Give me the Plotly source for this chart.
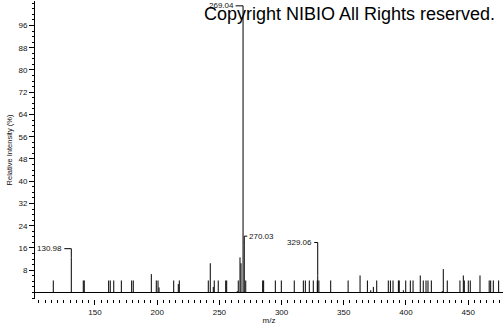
import plotly.graph_objects as go

# ---- data ----
mz = [116.5, 130.98, 140.6, 141.4, 161.0, 162.3, 165.1, 171.2, 179.5, 180.8,
      195.3, 199.3, 200.7, 201.5, 213.3, 217.0, 217.8, 241.1, 242.7, 245.1,
      245.9, 249.1, 255.1, 255.9, 264.4, 265.2, 266.6, 267.4, 269.04, 270.03,
      271.2, 284.8, 285.6, 295.0, 299.8, 310.2, 317.5, 319.1, 322.3, 325.5,
      328.7, 329.06, 330.0, 339.5, 353.5, 363.1, 369.0, 371.7, 373.8, 376.5,
      385.8, 387.5, 389.6, 393.9, 394.6, 397.9, 399.8, 403.5, 405.7, 411.5,
      413.9, 416.1, 417.7, 420.4, 429.2, 430.0, 433.2, 443.4, 446.1, 446.9,
      450.1, 451.7, 459.5, 466.9, 468.1, 470.2, 474.5]
intensity = [4.3, 12.5, 4.3, 4.3, 4.3, 4.3, 4.3, 4.3, 4.3, 4.3,
             6.6, 4.3, 4.3, 1.8, 4.3, 3.0, 4.3, 4.3, 10.5, 2.0,
             4.3, 4.3, 4.3, 4.3, 0.5, 4.3, 12.6, 10.5, 100.0, 17.0,
             4.3, 4.3, 4.3, 4.3, 4.3, 4.3, 4.3, 4.3, 4.3, 4.3,
             4.3, 6.1, 4.3, 4.3, 4.3, 6.1, 4.3, 0.8, 2.0, 4.3,
             4.3, 4.3, 4.3, 4.3, 4.3, 0.8, 4.3, 4.3, 4.3, 6.1,
             4.3, 4.3, 4.3, 4.3, 0.5, 8.4, 4.3, 4.3, 6.1, 4.3,
             4.3, 4.3, 6.1, 4.3, 4.3, 4.3, 4.3]

labeled_mz = [130.98, 269.04, 270.03, 329.06]
labeled_text = ["130.98", "269.04", "270.03", "329.06"]

y_tick_vals = [8, 16, 24, 32, 40, 48, 56, 64, 72, 80, 88, 96]
x_tick_vals = [150, 200, 250, 300, 350, 400, 450]

# label leader styles (pixels): rise above peak, horizontal run (neg = left)
label_rise = [9, 8.5, 9, 33]
label_run = [-7, -7.5, 3, -3.5]

# ---- build stick spectrum ----
xs, ys = [], []
for m, h in zip(mz, intensity):
    xs += [m, m, None]
    ys += [0, h, None]

fig = go.Figure()
fig.add_trace(go.Scatter(x=xs, y=ys, mode="lines",
                         line=dict(color="black", width=1),
                         hoverinfo="skip", showlegend=False))

font_small = dict(family="Arial, Liberation Sans, sans-serif", size=8, color="#111")

for m, txt, rise, run in zip(labeled_mz, labeled_text, label_rise, label_run):
    h = intensity[mz.index(m)]
    # vertical leader
    fig.add_shape(type="line", xref="x", yref="y", x0=m, x1=m,
                  ysizemode="pixel", yanchor=h, y0=0, y1=rise,
                  line=dict(color="black", width=1))
    # horizontal leader
    fig.add_shape(type="line", xref="x", yref="y",
                  xsizemode="pixel", xanchor=m, x0=0, x1=run,
                  ysizemode="pixel", yanchor=h, y0=rise, y1=rise,
                  line=dict(color="black", width=1))
    fig.add_annotation(x=m, y=h, xref="x", yref="y", text=txt,
                       showarrow=False, font=font_small,
                       xanchor="right" if run < 0 else "left",
                       yanchor="middle",
                       xshift=run + (-1 if run < 0 else 1), yshift=rise,
                       borderpad=0)

fig.add_annotation(text="Copyright NIBIO All Rights reserved.",
                   xref="paper", yref="paper", x=0.988, y=0.957,
                   xanchor="right", yanchor="middle", showarrow=False,
                   font=dict(family="Arial, Liberation Sans, sans-serif", size=18, color="black"))

fig.update_layout(
    width=504, height=325,
    margin=dict(l=35, r=1, t=1, b=24),
    paper_bgcolor="white", plot_bgcolor="white",
    font=font_small,
    xaxis=dict(range=[101.8, 478.0], tickvals=x_tick_vals,
               ticks="outside", ticklen=5, tickcolor="black", tickwidth=1,
               minor=dict(dtick=5, tick0=0, ticks="outside", ticklen=3, tickcolor="black"),
               showline=False, showgrid=False, zeroline=False,
               tickfont=font_small,
               title=dict(text="m/z", font=font_small, standoff=2)),
    yaxis=dict(range=[-2.36, 104.8], tickvals=y_tick_vals,
               ticks="outside", ticklen=5, tickcolor="black", tickwidth=1,
               minor=dict(dtick=2, tick0=0, ticks="outside", ticklen=2, tickcolor="black"),
               showline=True, linecolor="black", linewidth=1,
               showgrid=False, zeroline=True, zerolinecolor="black", zerolinewidth=1,
               tickfont=font_small,
               title=dict(text="Relative Intensity (%)", font=dict(family="Arial, Liberation Sans, sans-serif", size=7.5, color="#111"), standoff=4)),
)

fig.write_html("out.html")
